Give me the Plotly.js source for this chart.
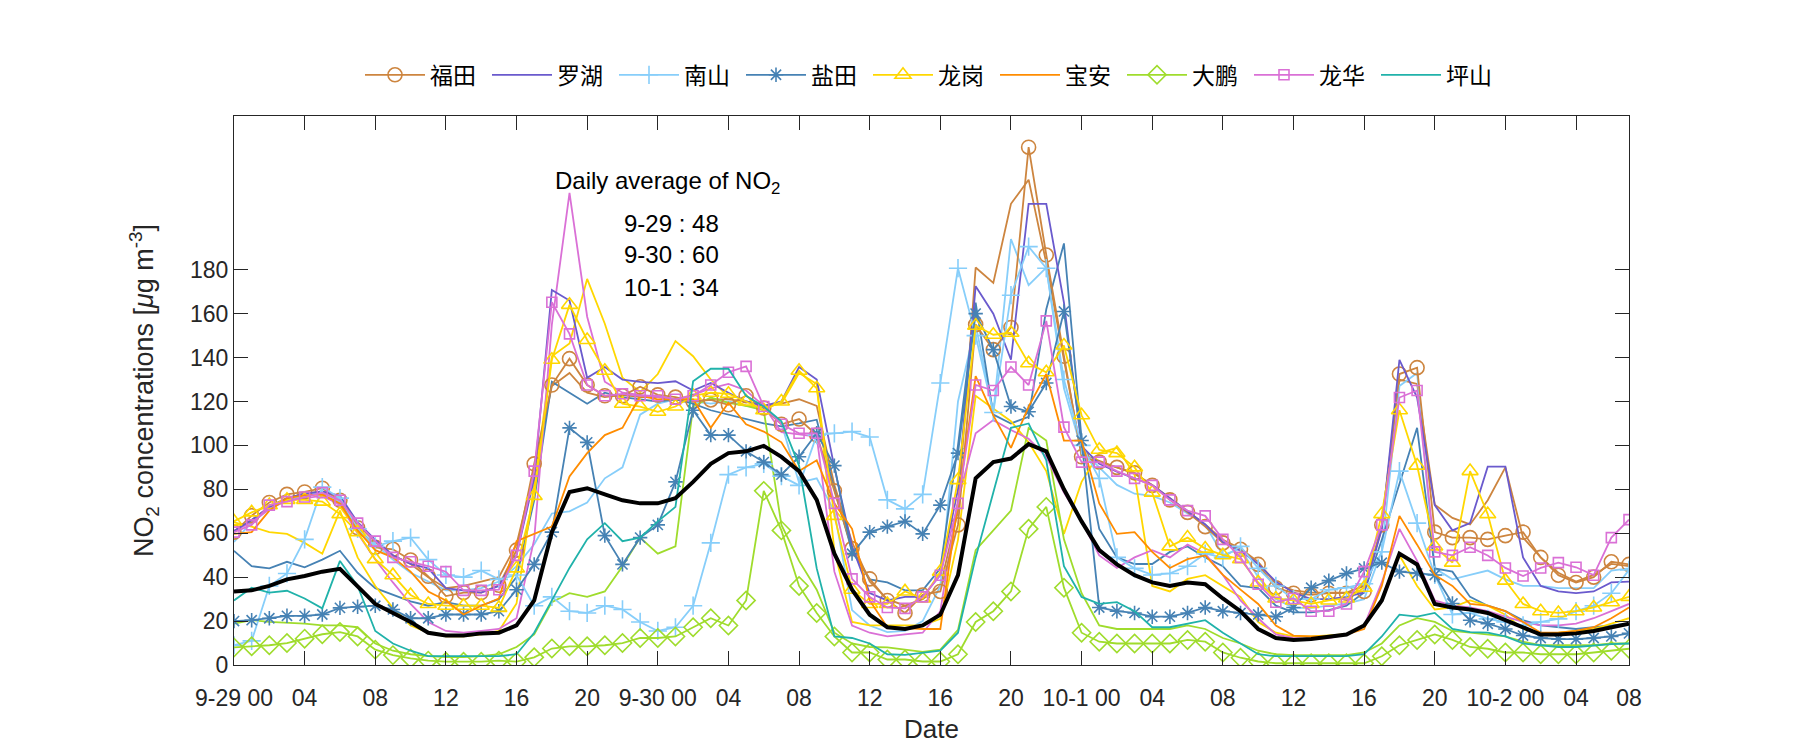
<!DOCTYPE html>
<html>
<head>
<meta charset="utf-8">
<script src="https://cdn.plot.ly/plotly-3.0.1.min.js"></script>
<style>html,body{margin:0;padding:0;background:#fff;}#chart{width:1800px;height:750px;}</style>
</head>
<body>
<div id="chart"></div>
<script>
// hours from 9-29 00 to 10-2 07 (80 hourly points)
const hours = Array.from({length: 80}, (_, i) => i);
const tickHours = [0,4,8,12,16,20,24,28,32,36,40,44,48,52,56,60,64,68,72,76,79];
const tickLabels = ["9-29 00","04","08","12","16","20","9-30 00","04","08","12","16","20","10-1 00","04","08","12","16","20","10-2 00","04","08"];

const districts = ["福田","罗湖","南山","盐田","龙岗","宝安","大鹏","龙华","坪山"];

const futian = [60.5,68,74,77.7,78.8,80.5,75,62.5,53.6,52.7,47.8,40.4,31.4,33,33,
 36.3,52.3,91.6,127.5,139.5,127.5,122.6,122.6,126.7,123,122,120,120.7,118.5,122.6,
 117,109.6,112,104.7,79.3,53,39.2,29.4,23.7,31.9,33.5,63.8,155,143.6,153.7,
 235.8,186.7,140.6,94.8,92.4,90,87.5,81.8,75.2,69.5,63,55.6,52.7,45.8,35.2,
 32.7,31.9,32.7,32.7,33.5,63.8,132.5,135.4,60.5,58,58,57.2,58.9,60.5,49,40.9,37.6,40,47,45.8];
const futianB = [61,66,72,76,78,79,76,64,56,50,46,40,35,36,38,
 40,55,88,127,133,124,122,123,122,122,121,120,121,121,120,
 118,119,121,118,82,56,38,30,27,30,36,70,181,174,210,
 221,183,139,96,93,90,87,82,76,70,64,57,53,47,37,
 34,33,33,33,36,62,130,128,73,67,64,75,90,58,49,42,38,41,46,45];
const luohu = [61,66,72,76,78,79,77,65,57,50,46,44,35,34,33,
 36,50,85,170.8,166,130.8,135.7,130,128.9,128.4,129.2,125,128.4,124,120,
 118,120,135.7,130,90,54,32.7,29.4,31,31,41,80,172.5,160,139,
 210,210,165,99.7,91.6,88,85,82,76,70,64,56,52,46,38,
 33,30,30,31,33,62,139,121.8,72.8,61.3,64.6,90.3,90.3,49,36,33.5,32.7,33.5,37.6,38];
const nanshan = [9,11,36,41.7,57.2,81,76,62,54,56.4,58,48,41,40,43,
 39,41,27,31,24.5,23.7,27,25.3,19.6,15.5,17.2,27,55.6,86.7,90,
 91.6,86,81.8,104.7,105.5,106.3,103.8,75.2,71.1,77.7,128.4,180.7,150,115,168.4,
 190.5,180.7,130,100,85,49,44,41,41.7,45,50.7,49,54,44,36,
 30,30,34.3,35.2,37,51.5,88.3,64.6,41,23,23.7,21,19.6,18,19.6,21,24.5,27,32.7,43.3];
const nanshanB = [56,65,71,75,77,79,74,62,55,48,42,38,34,34,35,
 38,45,55,69,70,74,85,90,114,119,121,120,119,120,118,
 117,110,83,85,70,25,18,15,15.5,20,36,120,155,115,194,
 173,181,126,98,90,82,78,77,74,69,64,50,53,40,30,
 26,26,27,28,30,52,127,133,44,39,41,43,39,36,36,35,35,35,43,44];
const yantian = [20,20.4,21.3,22.4,22.4,23,26,26.5,27,25.3,21.3,21.3,23,23,23,
 24.5,34.3,45.8,60.5,108,101.4,58.9,45.8,58,63.8,83.4,116,104.7,104.7,97.3,
 92.4,86.7,94.8,105.5,90.8,50.7,60.5,63,65.4,59.7,72.8,96.5,160,143.6,117.7,
 115.3,128.4,161,102.2,26.2,24.5,23.7,22,22,23.7,26.2,24.5,23.7,23,22,
 26.2,35.2,38.4,41.7,44,46.6,42.5,41.7,41,28,20.4,18.8,16.4,13.4,12.3,11.8,11.8,12.3,13,14.4];
const yantianB = [52,45,44,47,44.5,48,52,42,35,32,29,27,28.6,27,27,
 30,40,75,129,124,119,124,122,121,120,121,119,116,114,112,
 110,108.7,110,111.7,80,52,39,37.6,34,34,44,100,165,114,110,
 113,162,192,103,62,49,46,46,51.5,54,49,45,36,35,27,
 24,24,25,27,33,57,83,108,44,42.5,31,27,24.5,20.4,18,17.2,16.4,17.2,18,18.8];
const longgang = [65.4,69.5,72.8,75.2,75.2,74.4,68.7,60.5,48.2,40.9,31.9,27.8,27,27,27,
 26,44,77,139,164,148,134,119,117.7,115.3,117.7,122.6,124,123.5,120,
 116,120,134,126,67.9,34.3,27.8,27.8,33.5,30.3,42.5,84.2,154.5,150.4,151.3,
 137.4,133.3,145.5,113.7,98,96.5,90,78.5,54,58,53,50,48.2,37.6,30.3,
 29.4,27.8,29.4,30.3,35.2,68.7,116,90.8,54,46.6,88.3,68.7,38.4,27.8,24.5,23.7,24.5,26.2,28.6,31];
const longgangB = [65,63,60.5,59.7,55.6,50.7,70.3,49,36,26,18,14.7,13,13,14,
 15.5,28,82,140.6,146.4,175.8,155.4,130.8,124.3,132.5,147.5,140.6,130,122,118,
 117.7,119,133,128,52,19.6,18,18,18,18,21,57,122.6,117,111,
 101.4,88.3,59.7,83.4,96.5,98.9,86.7,36,33.5,39.2,40.9,36,31,19.6,14.7,
 13,13,13.5,14,18,30,50,36,25.3,26.2,29.4,27,22.9,16.4,14.4,14.7,15.5,16.4,18.8,21.3];
const baoan = [59.7,60.5,70.3,76,77.2,77.7,73.6,61.3,52.3,49,42.5,33.5,29.4,23,27,
 30.3,56.4,59.7,63,85.9,96.5,104.7,108,122.6,121,121,121,108,119.4,109.6,
 106.3,101.4,88.3,93.2,73.6,62,29.4,17.2,16.7,16.4,16.4,73.6,131.6,113.7,98.9,
 117.7,132.5,102.2,102.2,73.6,59.7,60.5,51.5,44.2,48.2,49.9,41,34.3,27.8,18,
 13.4,13,13,14,16.4,36,67.9,54.8,41,36,27.8,27,24.5,19.6,14.7,14.7,15.5,17.2,21.3,26.2];
const dapeng = [8,8.5,9,10,12,14,15,13,7,4.5,3,2,1.5,1.5,1.5,
 2,1.5,3.5,7.5,8.5,8.5,9,10,12.3,12.3,13,17.2,21.3,18,29.4,
 79.3,61.3,36,23.7,13,5.7,5.7,2.5,2.5,1.6,1.6,4.9,19.6,24.5,33.5,
 62,72,35.2,14.7,10.6,9.8,9.8,9.8,9.8,11.4,10.6,5.7,3.3,1.6,0.8,
 0.8,0.8,0.8,0.8,0.8,4,9,11.4,13.9,11.4,8.2,7.4,5.7,5.7,4.9,4.9,4.9,5.7,6.5,7.4];
const dapengB = [18.8,20.4,19.6,19.3,18.8,18,18,17.2,9.8,6.5,4.9,4,3.6,3.6,4,
 4.9,8.2,13.9,28.6,32.7,31,33.5,45,58,50.7,54,117.7,121.8,119.4,118,
 116,63.8,47.4,34.3,14.7,9.8,8.2,8,7,6,7,16,52.3,61.3,70.3,
 107.9,102.2,57.2,32.7,18,16.4,16.4,16.4,16.4,18,16.4,12.3,9.8,6.5,4.9,
 4.5,4.5,4.5,4.5,5.7,9.8,18,21.3,19.6,15.5,14.7,13.9,13,10.6,9,9,9,9,9.8,9.8];
const longhua = [60.5,63.8,72.8,74.4,76.5,78.5,75,64.6,56.4,49,47,45,42.5,34,34,
 34.3,49.9,88.3,165.2,150.8,127.5,122.6,123.5,122.6,122.6,121,122.6,127.5,133.3,136,
 117.7,109.6,105.5,105.5,73.6,39.2,31,26.2,25.8,31,40.9,73.6,127.5,125,135.7,
 127.5,156.7,108.3,92.4,92.4,88.3,85,81.8,75.2,70.3,67.9,57.2,49,36.8,28.6,
 30.3,24.5,24.5,27.8,42.5,63.8,121.8,125,51.5,49.9,53.6,49.9,44.2,40.5,44.2,46.6,44.5,40.9,58,66.2];
const longhuaB = [61,65,71,75,76,77,73,60,48,37.6,27.8,19.6,15.5,14.7,15.5,
 16.4,21.3,57.2,155,215,158.6,129,124,123,122,121,123,126,128,125,
 118,106,105,104,42.5,18,14.7,13,13.9,14.7,24.5,75,105.5,111.5,107,
 103,94.8,78.5,65.4,49.9,44.2,49,52.3,49,54.8,50.7,41,29.4,21.3,13.9,
 12.3,11.8,12.3,13.9,18,37.6,62,47.4,29.4,27,26.2,24.5,22,19.6,18,18,18.8,21.3,24.5,27.8];
const pingshan = [29.4,35.2,33,33.8,30.3,25.8,47.4,36,15.5,9.8,6.5,4,4,4,4,
 4,4.9,14.7,29.4,44.2,57.2,64.6,56.4,58,65.4,72,129.2,134.9,134.9,122.6,
 117.7,111,90.8,44,13,12.3,9.8,4.9,4.6,5.7,6.5,14.7,49,78.5,108,
 110,93.2,45,31,27.8,28.6,24.5,17.2,17.2,18.8,20.4,14.7,9.8,4.9,4,
 4,4,4,4,4.9,13,22.9,22,23.7,16.4,15,14.7,13,9.8,9,8.2,8.2,9,9.5,9.8];
const average = [33.5,34,36,39,40.5,42.5,43.8,36,27.8,23.7,19.6,14.7,13.4,13.4,14.4,
 14.7,18,29.4,60.5,78.8,80.5,77.7,75,73.6,73.6,76,83.4,91.6,96.5,97.3,
 99.8,94.8,88.3,75.2,50.7,34.3,22.9,17.2,16.4,18,22.9,40.9,85,92.4,94,
 100.6,97.3,80,65.4,52.3,45.8,40.9,37.6,36,37.6,36.8,30.3,24.5,16.4,12.3,
 11.4,11.8,12.8,13.9,18,29.4,50.7,45.8,27.8,26.2,25.3,23.7,20.4,17.2,13.9,13.9,14.4,15.5,17.2,18.8];

const dailyAvgDays = ["9-29","9-30","10-1"];
const dailyAvgVals = [48, 60, 34];

const C = {
  futian: "#CD853F", luohu: "#6A5ACD", nanshan: "#87CEFA", yantian: "#4682B4",
  longgang: "#FFD700", baoan: "#FF8C00", dapeng: "#9FDC2C", longhua: "#DA70D6", pingshan: "#20B2AA"
};

function plain(y, color, name, show) {
  return {x: hours, y: y, type: "scatter", mode: "lines", name: name, showlegend: !!show,
          line: {color: color, width: 1.8}, hoverinfo: "skip"};
}
function marked(y, color, name, symbol, size) {
  return {x: hours, y: y, type: "scatter", mode: "lines+markers", name: name,
          line: {color: color, width: 1.8},
          marker: {symbol: symbol, size: size, color: color, line: {color: color, width: 1.6}}};
}

const traces = [
  plain(futianB, C.futian, "福田b", false),
  plain(nanshanB, C.nanshan, "南山b", false),
  plain(yantianB, C.yantian, "盐田b", false),
  plain(longgangB, C.longgang, "龙岗b", false),
  plain(dapengB, C.dapeng, "大鹏b", false),
  plain(longhuaB, C.longhua, "龙华b", false),
  marked(futian, C.futian, districts[0], "circle-open", 14),
  plain(luohu, C.luohu, districts[1], true),
  marked(nanshan, C.nanshan, districts[2], "cross-thin-open", 13),
  marked(yantian, C.yantian, districts[3], "asterisk-open", 12),
  marked(longgang, C.longgang, districts[4], "triangle-up-open", 14),
  plain(baoan, C.baoan, districts[5], true),
  marked(dapeng, C.dapeng, districts[6], "diamond-open", 14),
  marked(longhua, C.longhua, districts[7], "square-open", 10),
  plain(pingshan, C.pingshan, districts[8], true),
  {x: hours, y: average, type: "scatter", mode: "lines", name: "平均", showlegend: false,
   line: {color: "#000000", width: 4}}
];

const FONT = "Liberation Sans, Noto Sans CJK SC, sans-serif";
const annotations = [
  {xref: "paper", yref: "paper", x: 0.2287, y: 0.878, xanchor: "left", yanchor: "middle",
   text: "Daily average of NO<sub>2</sub>", showarrow: false, font: {size: 24, color: "#000", family: FONT}}
];
const annY = [0.805, 0.748, 0.687];
dailyAvgDays.forEach((d, i) => {
  annotations.push({xref: "paper", yref: "paper", x: 0.278, y: annY[i], xanchor: "left", yanchor: "middle",
    text: d + " : " + dailyAvgVals[i], showarrow: false, font: {size: 24, color: "#000", family: FONT}});
});

const axisCommon = {
  showline: true, linecolor: "#262626", linewidth: 1, mirror: "ticks",
  ticks: "inside", ticklen: 14, tickcolor: "#262626", tickwidth: 1,
  showgrid: false, zeroline: false, tickfont: {size: 23, color: "#262626", family: FONT}
};

const layout = {
  width: 1800, height: 750,
  margin: {l: 234, r: 171, t: 116, b: 85},
  paper_bgcolor: "#ffffff", plot_bgcolor: "#ffffff",
  font: {family: FONT, color: "#262626", size: 22},
  showlegend: true,
  legend: {orientation: "h", x: 0.5, xanchor: "center", y: 1.075, yanchor: "middle",
           font: {size: 23, color: "#000", family: FONT}, itemwidth: 60,
           entrywidth: 52, entrywidthmode: "pixels", bgcolor: "rgba(0,0,0,0)"},
  xaxis: Object.assign({}, axisCommon, {
    range: [0, 79], tickmode: "array", tickvals: tickHours, ticktext: tickLabels,
    ticklabelstandoff: 12,
    title: {text: "Date", font: {size: 26, color: "#262626", family: FONT}, standoff: 10}
  }),
  yaxis: Object.assign({}, axisCommon, {
    range: [0, 250], tickmode: "array", tickvals: [0,20,40,60,80,100,120,140,160,180],
    title: {text: "NO<sub>2</sub> concentrations [<i>μ</i>g m<sup>-3</sup>]",
            font: {size: 27, color: "#262626", family: FONT}, standoff: 28}
  }),
  annotations: annotations
};

Plotly.newPlot("chart", traces, layout, {displayModeBar: false, staticPlot: true});
</script>
</body>
</html>
